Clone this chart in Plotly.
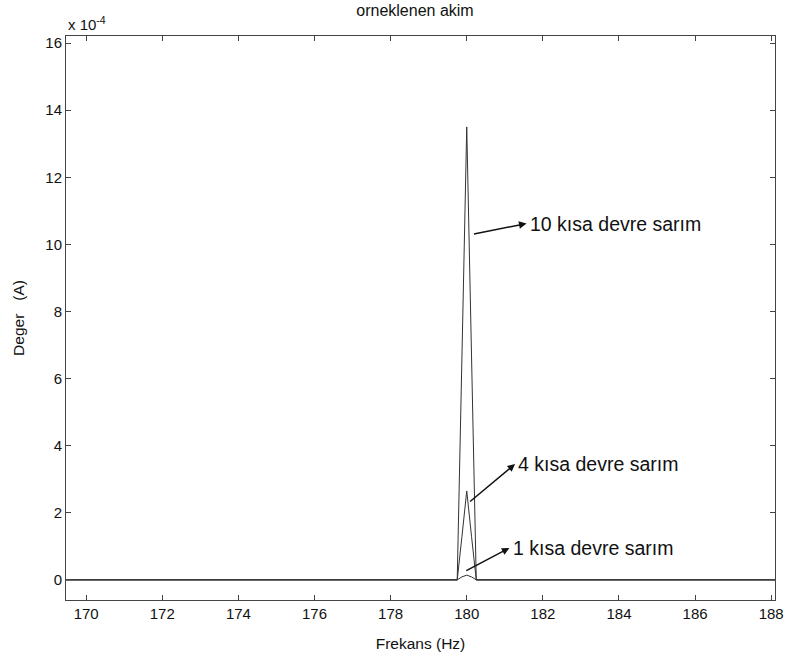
import plotly.graph_objects as go

# Frequency samples (Hz)
freq = [169.47, 179.5, 179.75, 179.875, 180.0, 180.125, 180.25, 180.5, 188.1]
# Amplitudes (A) for each fault case
amp_10 = [0, 0, 0, 6.7e-4, 13.5e-4, 6.7e-4, 0, 0, 0]
amp_4 = [0, 0, 0, 1.3e-4, 2.65e-4, 1.3e-4, 0, 0, 0]
amp_1 = [0, 0, 0, 0.09e-4, 0.14e-4, 0.09e-4, 0, 0, 0]
labels = ["10 kısa devre sarım", "4 kısa devre sarım", "1 kısa devre sarım"]

scale = 1e-4
y_ticks = [0, 2, 4, 6, 8, 10, 12, 14, 16]
x_ticks = [170, 172, 174, 176, 178, 180, 182, 184, 186, 188]

fig = go.Figure()
for a in (amp_10, amp_4, amp_1):
    fig.add_trace(go.Scatter(x=freq, y=[v / scale for v in a], mode="lines",
                             line=dict(color="#333333", width=1), showlegend=False))

font = "Liberation Sans, Arial, sans-serif"
fig.update_layout(
    width=795, height=664,
    margin=dict(l=66, r=20, t=36, b=64),
    paper_bgcolor="white", plot_bgcolor="white",
    font=dict(family=font, color="#111111", size=15),
    title=dict(text="orneklenen akim", x=0.522, xanchor="center", y=0.985, yanchor="middle",
               font=dict(size=16, family=font)),
    xaxis=dict(range=[169.47, 188.1], tickvals=x_ticks, ticks="inside", ticklen=5,
               tickcolor="#444444", showline=True, linecolor="#444444", linewidth=1,
               mirror="ticks", showgrid=False, zeroline=False,
               title=dict(text="Frekans (Hz)", font=dict(size=15.5), standoff=17)),
    yaxis=dict(range=[-0.6, 16.21], tickvals=y_ticks, ticks="inside", ticklen=5,
               tickcolor="#444444", showline=True, linecolor="#444444", linewidth=1,
               mirror="ticks", showgrid=False, zeroline=False,
               title=dict(text="Deger\u00a0\u00a0\u00a0(A)", font=dict(size=15.5), standoff=16)),
)

fig.add_annotation(xref="paper", yref="paper", x=0, y=1, xanchor="left", yanchor="bottom",
                   yshift=1, text="x 10<sup>-4</sup>", showarrow=False, font=dict(size=15))

# annotations: (text x, text y, arrow tail x, tail y) in data coords
ann = [
    (181.6, 10.62, 180.15, 10.3),
    (181.3, 3.45, 180.05, 2.3),
    (181.15, 0.95, 179.95, 0.25),
]
for lab, (tx, ty, ax, ay) in zip(labels, ann):
    fig.add_annotation(x=tx, y=ty, xref="x", yref="y", text=lab, showarrow=False,
                       xanchor="left", yanchor="middle", font=dict(size=19.5))
    fig.add_annotation(x=tx - 0.03, y=ty, ax=ax, ay=ay, xref="x", yref="y",
                       axref="x", ayref="y", text="", showarrow=True, arrowhead=2,
                       arrowsize=1, arrowwidth=1.5, arrowcolor="#111111")

fig.write_html("out.html")
